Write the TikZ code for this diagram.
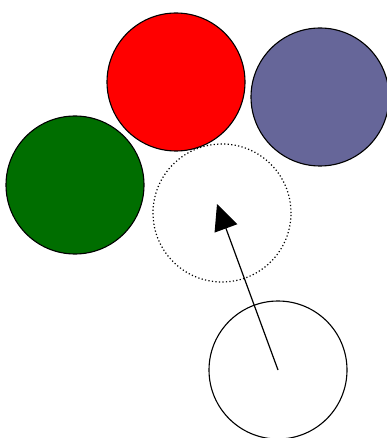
\documentclass[tikz,border=0pt]{standalone}
\usetikzlibrary{arrows.meta}
\definecolor{cred}{RGB}{255,0,0}
\definecolor{cblue}{RGB}{102,102,153}
\definecolor{cgreen}{RGB}{0,110,0}
\begin{document}
\begin{tikzpicture}[x=1pt,y=-1pt,
  ball/.style={circle,draw=black,line width=1.1pt,minimum size=138pt,inner sep=0pt},
  ghost/.style={ball,line width=1.2pt,dash pattern=on 1.2pt off 2.3pt},
  move/.style={line width=1.2pt,-{Triangle[length=26pt,width=24pt]}}]
\useasboundingbox (0,0) rectangle (387,438);
\node[ball,fill=cred] (red) at (176,82) {};
\node[ball,fill=cblue] (blue) at (320,97) {};
\node[ball,fill=cgreen] (green) at (75,185) {};
\node[ghost] (dot) at (222,213) {};
\node[ball] (cue) at (278,370) {};
\coordinate (tip) at (217,204);
\draw[move] (cue.center) -- (tip);
\end{tikzpicture}
\end{document}
